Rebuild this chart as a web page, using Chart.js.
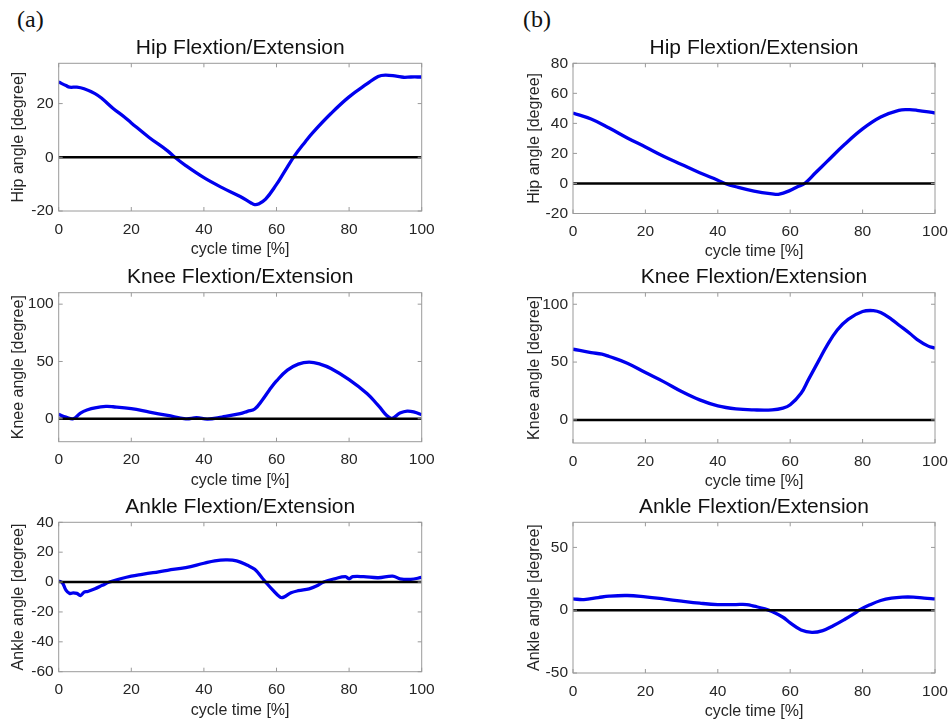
<!DOCTYPE html>
<html>
<head>
<meta charset="utf-8">
<script src="https://cdn.jsdelivr.net/npm/chart.js@4.4.1/dist/chart.umd.min.js"></script>
<style>
  html, body { margin: 0; padding: 0; background: #fff; overflow: hidden; }
  body { width: 948px; height: 723px; position: relative; }
  canvas { position: absolute; }
  .tag { position: absolute; font: 24px "Liberation Serif", "Times New Roman", serif; line-height: 24px; color: #111; }
</style>
</head>
<body>
<div class="tag" style="left:17px; top:7px;">(a)</div>
<div class="tag" style="left:523px; top:7px;">(b)</div>
<canvas id="hipA"></canvas>
<canvas id="hipB"></canvas>
<canvas id="kneeA"></canvas>
<canvas id="kneeB"></canvas>
<canvas id="ankleA"></canvas>
<canvas id="ankleB"></canvas>
<script>
// gait cycle [%] and joint angles [degree]
const xTicks = [0, 20, 40, 60, 80, 100];
const zeroX = [0, 100];
const zeroY = [0, 0];

const hipA_x = [0, 2, 3, 5, 7, 10, 12, 15, 18, 20, 25, 30, 32, 35, 40, 45, 50, 53, 54, 55, 57, 60, 62, 65, 68, 70, 75, 80, 85, 88, 90, 93, 95, 97, 100];
const hipA_y = [28.0, 26.7, 26.1, 26.1, 25.5, 23.7, 21.8, 18.2, 15.1, 12.8, 7.3, 2.4, 0, -3.1, -7.6, -11.3, -14.6, -17.0, -17.6, -17.4, -15.6, -10.1, -5.8, 0.6, 5.9, 9.2, 16.3, 22.5, 27.4, 30.1, 30.6, 30.2, 29.8, 29.9, 29.9];
const hipA_ticks = [-20, 0, 20];

const hipB_x = [0, 5, 10, 15, 20, 25, 30, 35, 40, 42, 45, 50, 55, 57, 60, 62, 64, 67, 70, 75, 80, 85, 90, 93, 95, 100];
const hipB_y = [46.9, 42.9, 36.9, 30.3, 24.3, 18.1, 12.6, 7.1, 2.2, 0, -2.2, -5.1, -6.9, -7.1, -4.6, -2.2, 0, 7.1, 14.2, 25.9, 36.3, 44.2, 48.7, 49.1, 48.7, 46.9];
const hipB_ticks = [-20, 0, 20, 40, 60, 80];

const kneeA_x = [0, 2, 4, 6, 8, 10, 13, 15, 20, 25, 30, 35, 38, 41, 45, 50, 52, 54, 56, 58, 60, 63, 66, 69, 72, 75, 80, 85, 88, 91.5, 94, 96, 98, 100];
const kneeA_y = [3.8, 1.5, 0, 5, 7.9, 9.6, 10.8, 10.5, 8.8, 5.8, 2.9, 0, 0.9, -0.3, 1.5, 4.4, 6.5, 8.5, 16, 24.9, 33, 42.4, 47.7, 49.4, 47.7, 43.9, 34.2, 21.9, 11.7, 0.5, 5, 6.7, 5.8, 3.5];
const kneeTicks = [0, 50, 100];

const kneeB_x = [0, 5, 8, 10, 15, 20, 25, 30, 35, 40, 45, 50, 55, 58, 60, 63, 65, 68, 70, 73, 76, 80, 83, 85, 88, 90, 93, 95, 98, 100];
const kneeB_y = [61.1, 58.2, 56.8, 54.8, 49, 40.9, 33.1, 24.5, 17.3, 12.1, 9.5, 8.6, 8.6, 10.1, 13, 23, 34.6, 51.9, 63.4, 77.8, 87, 93.7, 94.5, 92.8, 87, 82.1, 74.9, 69.7, 64, 62];

const ankleA_x = [0, 1, 2, 3, 4, 5, 6, 7, 8, 10, 12, 14, 17, 20, 23, 26, 30, 35, 40, 43, 46, 49, 52, 54, 56, 57, 59, 61, 62, 64, 66, 69, 71, 73, 76, 79, 80, 81, 84, 88, 92, 94, 97, 100];
const ankleA_y = [0.7, -0.4, -5.4, -7.6, -7.2, -7.6, -9, -6.7, -6.3, -4.5, -2.2, 0, 2.2, 4, 5.2, 6.3, 7.9, 9.7, 12.6, 14.2, 14.8, 14.2, 11.2, 8.5, 2.9, 0, -5.4, -10.1, -10.1, -7.2, -5.8, -4.5, -2.7, 0, 2.2, 3.6, 2.2, 3.6, 3.6, 2.9, 4, 2.2, 1.8, 3.1];
const ankleA_ticks = [-60, -40, -20, 0, 20, 40];

const ankleB_x = [0, 3, 7, 10, 15, 20, 25, 30, 35, 40, 45, 48, 50, 53, 55, 58, 60, 63, 66, 69, 72, 75, 78, 79, 82, 85, 88, 91, 94, 97, 100];
const ankleB_y = [9, 8.5, 10.1, 11.2, 11.7, 10.6, 9, 7.2, 5.6, 4.5, 4.5, 4.5, 3.2, 1.1, -1.1, -5.6, -10.1, -15.7, -17.6, -16.2, -12.2, -7.4, -2.1, 0, 4.3, 7.7, 9.6, 10.4, 10.4, 9.6, 9];
const ankleB_ticks = [-50, 0, 50];

const FONT = '"Liberation Sans", Arial, Helvetica, sans-serif';
Chart.defaults.font.family = FONT;

// column geometry (plot box edges in page pixels)
const cols = [
    { cx: 0, cw: 474, plotLeft: 58.7, plotRight: 421.7, pl: 9 },
    { cx: 474, cw: 494, plotLeft: 573, plotRight: 935, pl: 51 }
];

const panels = [
    { id: 'hipA', col: 0, top: 63.3, bottom: 211, title: 'Hip Flextion/Extension', ylabel: 'Hip angle [degree]', x: hipA_x, y: hipA_y, yMin: -20, yMax: 35, yTicks: hipA_ticks },
    { id: 'hipB', col: 1, top: 63.3, bottom: 213.5, title: 'Hip Flextion/Extension', ylabel: 'Hip angle [degree]', x: hipB_x, y: hipB_y, yMin: -20, yMax: 80, yTicks: hipB_ticks },
    { id: 'kneeA', col: 0, top: 292.7, bottom: 441.7, title: 'Knee Flextion/Extension', ylabel: 'Knee angle [degree]', x: kneeA_x, y: kneeA_y, yMin: -20, yMax: 110, yTicks: kneeTicks },
    { id: 'kneeB', col: 1, top: 292.7, bottom: 443, title: 'Knee Flextion/Extension', ylabel: 'Knee angle [degree]', x: kneeB_x, y: kneeB_y, yMin: -20, yMax: 110, yTicks: kneeTicks },
    { id: 'ankleA', col: 0, top: 522.3, bottom: 671.7, title: 'Ankle Flextion/Extension', ylabel: 'Ankle angle [degree]', x: ankleA_x, y: ankleA_y, yMin: -60, yMax: 40, yTicks: ankleA_ticks },
    { id: 'ankleB', col: 1, top: 522.3, bottom: 673, title: 'Ankle Flextion/Extension', ylabel: 'Ankle angle [degree]', x: ankleB_x, y: ankleB_y, yMin: -50, yMax: 70, yTicks: ankleB_ticks }
];

// matlab-like box with inward tick marks
const boxTicks = {
    id: 'boxTicks',
    afterDraw(chart) {
        const { ctx, chartArea: a, scales } = chart;
        ctx.save();
        ctx.strokeStyle = '#9a9a9a';
        ctx.lineWidth = 1;
        ctx.strokeRect(a.left, a.top, a.right - a.left, a.bottom - a.top);
        ctx.beginPath();
        scales.x.ticks.forEach(t => {
            const px = scales.x.getPixelForValue(t.value);
            ctx.moveTo(px, a.bottom); ctx.lineTo(px, a.bottom - 4);
            ctx.moveTo(px, a.top); ctx.lineTo(px, a.top + 4);
        });
        scales.y.ticks.forEach(t => {
            const py = scales.y.getPixelForValue(t.value);
            ctx.moveTo(a.left, py); ctx.lineTo(a.left + 4, py);
            ctx.moveTo(a.right, py); ctx.lineTo(a.right - 4, py);
        });
        ctx.stroke();
        ctx.restore();
    }
};

const H = 262;
const X_AXIS_H = 48;

panels.forEach(p => {
    const c = cols[p.col];
    const cy = Math.round(p.top - 63);
    const canvas = document.getElementById(p.id);
    canvas.width = c.cw;
    canvas.height = H;
    canvas.style.left = c.cx + 'px';
    canvas.style.top = cy + 'px';

    const titleSize = 21;
    const titleMid = p.top - 15.5;
    const titlePadTop = titleMid - cy - titleSize * 0.6;
    const titlePadBottom = p.top - titleMid - titleSize * 0.6;

    new Chart(canvas, {
        type: 'line',
        data: {
            datasets: [
                {
                    data: zeroX.map((v, i) => ({ x: v, y: zeroY[i] })),
                    borderColor: '#000',
                    borderWidth: 2.5,
                    pointRadius: 0
                },
                {
                    data: p.x.map((v, i) => ({ x: v, y: p.y[i] })),
                    borderColor: '#0000ee',
                    borderWidth: 3.3,
                    pointRadius: 0,
                    tension: 0.4
                }
            ]
        },
        options: {
            responsive: false,
            animation: false,
            devicePixelRatio: 1,
            layout: {
                padding: {
                    left: c.pl,
                    right: c.cx + c.cw - c.plotRight,
                    top: 0,
                    bottom: cy + H - p.bottom - X_AXIS_H
                }
            },
            plugins: {
                legend: { display: false },
                tooltip: { enabled: false },
                title: {
                    display: true,
                    text: p.title,
                    fullSize: false,
                    color: '#111',
                    font: { size: titleSize, weight: 'normal' },
                    padding: { top: titlePadTop, bottom: titlePadBottom }
                }
            },
            scales: {
                x: {
                    type: 'linear',
                    min: 0,
                    max: 100,
                    afterBuildTicks: s => { s.ticks = xTicks.map(v => ({ value: v })); },
                    afterFit: s => { s.height = X_AXIS_H; },
                    grid: { display: false, drawTicks: false },
                    border: { display: false },
                    ticks: { padding: 9, color: '#262626', font: { size: 15.5 }, maxRotation: 0 },
                    title: { display: true, text: 'cycle time [%]', color: '#262626', font: { size: 16 }, padding: 0 }
                },
                y: {
                    type: 'linear',
                    min: p.yMin,
                    max: p.yMax,
                    afterBuildTicks: s => { s.ticks = p.yTicks.map(v => ({ value: v })); },
                    afterFit: s => { s.width = c.plotLeft - c.cx - c.pl; },
                    grid: { display: false, drawTicks: false },
                    border: { display: false },
                    ticks: { padding: 5, color: '#262626', font: { size: 15.5 } },
                    title: { display: true, text: p.ylabel, color: '#262626', font: { size: 16 }, padding: 0 }
                }
            }
        },
        plugins: [boxTicks]
    });
});
</script>
</body>
</html>
